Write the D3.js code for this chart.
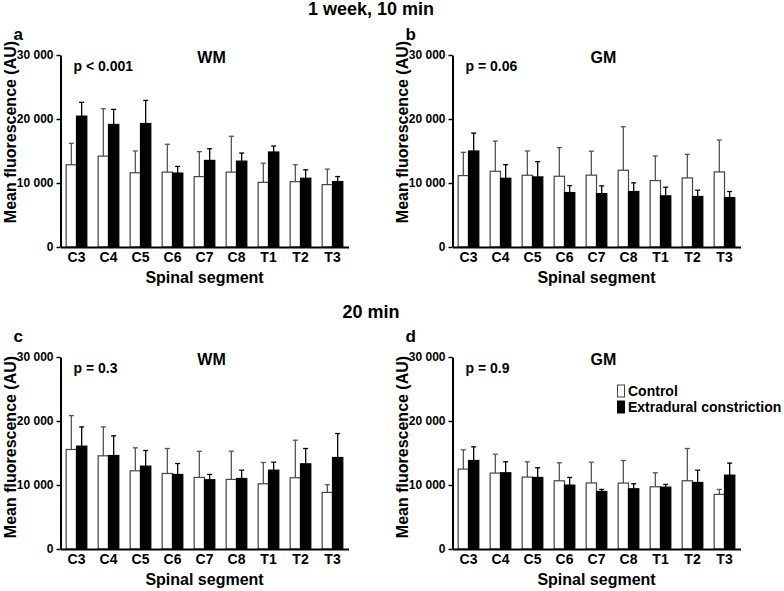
<!DOCTYPE html>
<html>
<head>
<meta charset="utf-8">
<script src="https://cdn.jsdelivr.net/npm/d3@7"></script>
<style>
  body { margin: 0; background: #fff; }
  text { font-family: "Liberation Sans", Arial, sans-serif; font-weight: bold; fill: #000; }
  .yax text { font-size: 12px; }
  .xax text { font-size: 14px; }
</style>
</head>
<body>
<svg id="fig" width="784" height="591"></svg>
<script>
var segments = ["C3", "C4", "C5", "C6", "C7", "C8", "T1", "T2", "T3"];
var yTicks = [0, 10000, 20000, 30000];

// 1 week, 10 min - white matter
var wm10Control = [12850, 14200, 11600, 11700, 11000, 11700, 10100, 10200, 9750];
var wm10ControlSd = [3350, 7400, 3400, 4350, 3900, 5600, 3000, 2650, 2420];
var wm10Constr = [20450, 19150, 19300, 11550, 13530, 13420, 14840, 10750, 10230];
var wm10ConstrSd = [2150, 2350, 3600, 1040, 1830, 1260, 940, 1310, 780];

// 1 week, 10 min - grey matter
var gm10Control = [11160, 11830, 11210, 11050, 11230, 11990, 10380, 10790, 11730];
var gm10ControlSd = [3630, 4720, 3790, 4470, 3740, 6800, 3840, 3690, 4980];
var gm10Constr = [15000, 10740, 10950, 8510, 8350, 8670, 7990, 7890, 7730];
var gm10ConstrSd = [2800, 2130, 2390, 1090, 1200, 1350, 1350, 980, 940];

// 20 min - white matter
var wm20Control = [15550, 14560, 12220, 11800, 11180, 10870, 10190, 11130, 8840];
var wm20ControlSd = [5300, 4520, 3590, 3900, 4080, 4420, 3330, 5870, 1200];
var wm20Constr = [16070, 14610, 12950, 11650, 10820, 11020, 12320, 13310, 14300];
var wm20ConstrSd = [3010, 3070, 2440, 1710, 830, 1300, 1250, 2390, 3740];

// 20 min - grey matter
var gm20Control = [12480, 11860, 11230, 10660, 10320, 10300, 9720, 10660, 8530];
var gm20ControlSd = [3020, 2960, 2390, 2810, 3250, 3530, 2190, 5040, 780];
var gm20Constr = [13830, 11910, 11180, 9980, 9000, 9410, 9670, 10400, 11540];
var gm20ConstrSd = [2130, 1710, 1510, 1200, 310, 780, 420, 1920, 1880];

var legendLabels = ["Control", "Extradural constriction"];

var panels = [
  { letter: "a", title: "WM", p: "p < 0.001", x0: 60.5, y0: 55, ctrl: wm10Control, ctrlSd: wm10ControlSd, ext: wm10Constr, extSd: wm10ConstrSd },
  { letter: "b", title: "GM", p: "p = 0.06", x0: 452.5, y0: 55, ctrl: gm10Control, ctrlSd: gm10ControlSd, ext: gm10Constr, extSd: gm10ConstrSd },
  { letter: "c", title: "WM", p: "p = 0.3", x0: 60.5, y0: 357, ctrl: wm20Control, ctrlSd: wm20ControlSd, ext: wm20Constr, extSd: wm20ConstrSd },
  { letter: "d", title: "GM", p: "p = 0.9", x0: 452.5, y0: 357, ctrl: gm20Control, ctrlSd: gm20ControlSd, ext: gm20Constr, extSd: gm20ConstrSd, legend: true }
];

var w = 288, h = 192;
var svg = d3.select("#fig");
var fmt = function (d) { return d3.format(",")(d).replace(",", "\u00a0"); };

svg.append("text").attr("x", 371).attr("y", 15).attr("text-anchor", "middle")
  .style("font-size", "18px").text("1 week, 10 min");
svg.append("text").attr("x", 371).attr("y", 318).attr("text-anchor", "middle")
  .style("font-size", "18px").text("20 min");

panels.forEach(function (pn) {
  var g = svg.append("g");

  var x = d3.scaleBand().domain(segments).range([pn.x0, pn.x0 + w])
    .paddingInner(0.355).paddingOuter(0.1775);
  var x1 = d3.scaleBand().domain(["ctrl", "ext"]).range([0, x.bandwidth()]);
  var y = d3.scaleLinear().domain([0, 30000]).range([pn.y0 + h, pn.y0]);

  var rows = segments.map(function (s, i) {
    return [
      { seg: s, key: "ctrl", v: pn.ctrl[i], sd: pn.ctrlSd[i] },
      { seg: s, key: "ext", v: pn.ext[i], sd: pn.extSd[i] }
    ];
  });
  var flat = d3.merge(rows);

  // error bars (upper only)
  var eb = g.selectAll(".eb").data(flat).join("g").attr("class", "eb")
    .attr("stroke", function (d) { return d.key == "ctrl" ? "#555" : "#000"; })
    .attr("stroke-width", 1.3);
  eb.append("line")
    .attr("x1", function (d) { return x(d.seg) + x1(d.key) + x1.bandwidth() / 2; })
    .attr("x2", function (d) { return x(d.seg) + x1(d.key) + x1.bandwidth() / 2; })
    .attr("y1", function (d) { return y(d.v); })
    .attr("y2", function (d) { return y(d.v + d.sd); });
  eb.append("line")
    .attr("x1", function (d) { return x(d.seg) + x1(d.key) + x1.bandwidth() / 2 - 2.5; })
    .attr("x2", function (d) { return x(d.seg) + x1(d.key) + x1.bandwidth() / 2 + 2.5; })
    .attr("y1", function (d) { return y(d.v + d.sd); })
    .attr("y2", function (d) { return y(d.v + d.sd); });

  g.selectAll(".bar").data(flat).join("rect").attr("class", "bar")
    .attr("x", function (d) { return x(d.seg) + x1(d.key); })
    .attr("y", function (d) { return y(d.v); })
    .attr("width", x1.bandwidth())
    .attr("height", function (d) { return y(0) - y(d.v); })
    .attr("fill", function (d) { return d.key == "ctrl" ? "#fff" : "#000"; })
    .attr("stroke", function (d) { return d.key == "ctrl" ? "#444" : "#000"; })
    .attr("stroke-width", 1.2);

  var ya = g.append("g").attr("class", "yax").attr("transform", "translate(" + pn.x0 + ",0)")
    .call(d3.axisLeft(y).tickValues(yTicks).tickFormat(fmt).tickSize(4).tickSizeOuter(0).tickPadding(3));
  ya.select(".domain").attr("stroke-width", 2);
  ya.selectAll(".tick line").attr("stroke-width", 1.5);

  var xa = g.append("g").attr("class", "xax").attr("transform", "translate(0," + (pn.y0 + h) + ")")
    .call(d3.axisBottom(x).tickSize(0).tickSizeOuter(0).tickPadding(5));
  xa.select(".domain").attr("stroke-width", 2);

  g.append("text").attr("x", pn.x0 + w / 2).attr("y", pn.y0 + h + 36)
    .attr("text-anchor", "middle").style("font-size", "16px").text("Spinal segment");

  g.append("text")
    .attr("transform", "translate(" + (pn.x0 - 45) + "," + (pn.y0 < 100 ? 132 : 447) + ") rotate(-90)")
    .attr("text-anchor", "middle").style("font-size", "16px").text("Mean fluorescence (AU)");

  g.append("text").attr("x", pn.x0 - 47).attr("y", pn.y0 - 15)
    .style("font-size", "17px").text(pn.letter);

  g.append("text").attr("x", pn.x0 + 151).attr("y", pn.y0 + 8)
    .attr("text-anchor", "middle").style("font-size", "16px").text(pn.title);

  g.append("text").attr("x", pn.x0 + 13).attr("y", pn.y0 + 16)
    .style("font-size", "14px").text(pn.p);

  if (pn.legend) {
    var lg = g.selectAll(".lg").data(legendLabels).join("g").attr("class", "lg")
      .attr("transform", function (d, i) { return "translate(" + (pn.x0 + 165) + "," + (pn.y0 + 28 + i * 16) + ")"; });
    lg.append("rect").attr("width", 7).attr("height", 12)
      .attr("fill", function (d, i) { return i == 0 ? "#fff" : "#000"; })
      .attr("stroke", function (d, i) { return i == 0 ? "#444" : "#000"; })
      .attr("stroke-width", 1);
    lg.append("text").attr("x", 10.5).attr("y", 11).style("font-size", "14px").text(function (d) { return d; });
  }
});
</script>
</body>
</html>
